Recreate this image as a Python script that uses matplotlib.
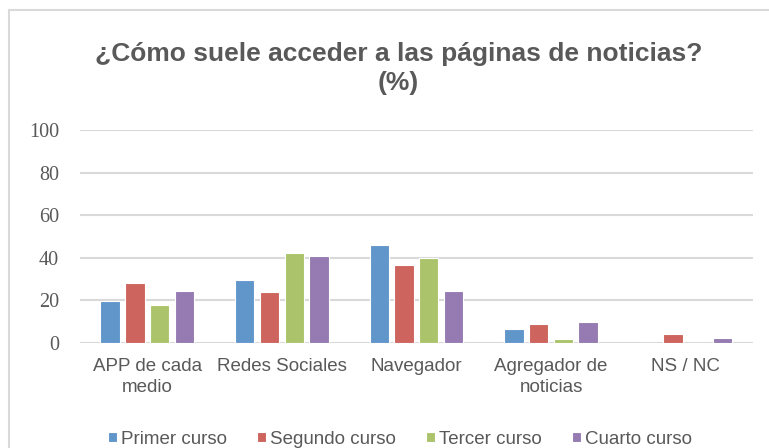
import numpy as np
import matplotlib.pyplot as plt
from matplotlib.patches import Rectangle

# Data
#------------------------------------------------
categorias = ['APP de cada\nmedio', 'Redes Sociales', 'Navegador', 'Agregador de\nnoticias', 'NS / NC']
cursos = ['Primer curso', 'Segundo curso', 'Tercer curso', 'Cuarto curso']
primero = [19.5, 29.8, 46.0, 6.7, 0.0]
segundo = [28.2, 24.0, 36.8, 8.7, 4.4]
tercero = [17.9, 42.2, 40.0, 1.7, 0.0]
cuarto = [24.4, 41.0, 24.4, 9.8, 2.4]
yticks = [0, 20, 40, 60, 80, 100]
#------------------------------------------------

colores = ['#6196CB', '#CD645E', '#ABC46B', '#957BB1']
gris = '#595959'

fig = plt.figure(figsize=(7.69, 4.48), dpi=100)
ax = fig.add_axes([0.104, 0.2344, 0.875, 0.4754])

x = np.arange(len(categorias))
w = 0.144
step = 0.184
series = [primero, segundo, tercero, cuarto]
for i, vals in enumerate(series):
    ax.bar(x + (i - 1.5) * step, vals, w, color=colores[i], edgecolor='white',
           linewidth=0.8, label=cursos[i], zorder=3)

ax.set_xlim(-0.5, len(categorias) - 0.5)
ax.set_ylim(0, 100)
ax.set_yticks(yticks)
ax.set_yticklabels([str(v) for v in yticks], family='Liberation Serif', fontsize=14.5, color=gris)
ax.set_xticks(x)
ax.set_xticklabels(categorias, family='Liberation Sans', fontsize=13.5, color=gris, linespacing=1.3)
ax.tick_params(axis='y', length=0, pad=15)
ax.tick_params(axis='x', length=0, pad=11)
ax.yaxis.grid(True, color='#d9d9d9', linewidth=1.5, zorder=0)
for s in ax.spines.values():
    s.set_visible(False)

fig.text(0.518, 0.847, '¿Cómo suele acceder a las páginas de noticias?\n(%)', ha='center', va='center',
         family='Liberation Sans', fontsize=19, fontweight='bold', color=gris, linespacing=1.3)

# chart border
fig.patches.append(Rectangle((9 / 769, -0.2), 2, 1.2 - 10 / 448, transform=fig.transFigure,
                             fill=False, edgecolor='#d9d9d9', linewidth=1.5))

fig.legend(loc='center', bbox_to_anchor=(0.52, 0.02), ncol=4, frameon=False,
           prop={'family': 'Liberation Sans', 'size': 13.5}, labelcolor=gris,
           handlelength=0.5, handleheight=0.5, handletextpad=0.2, columnspacing=1.6)

plt.savefig('out.png', dpi=100)
